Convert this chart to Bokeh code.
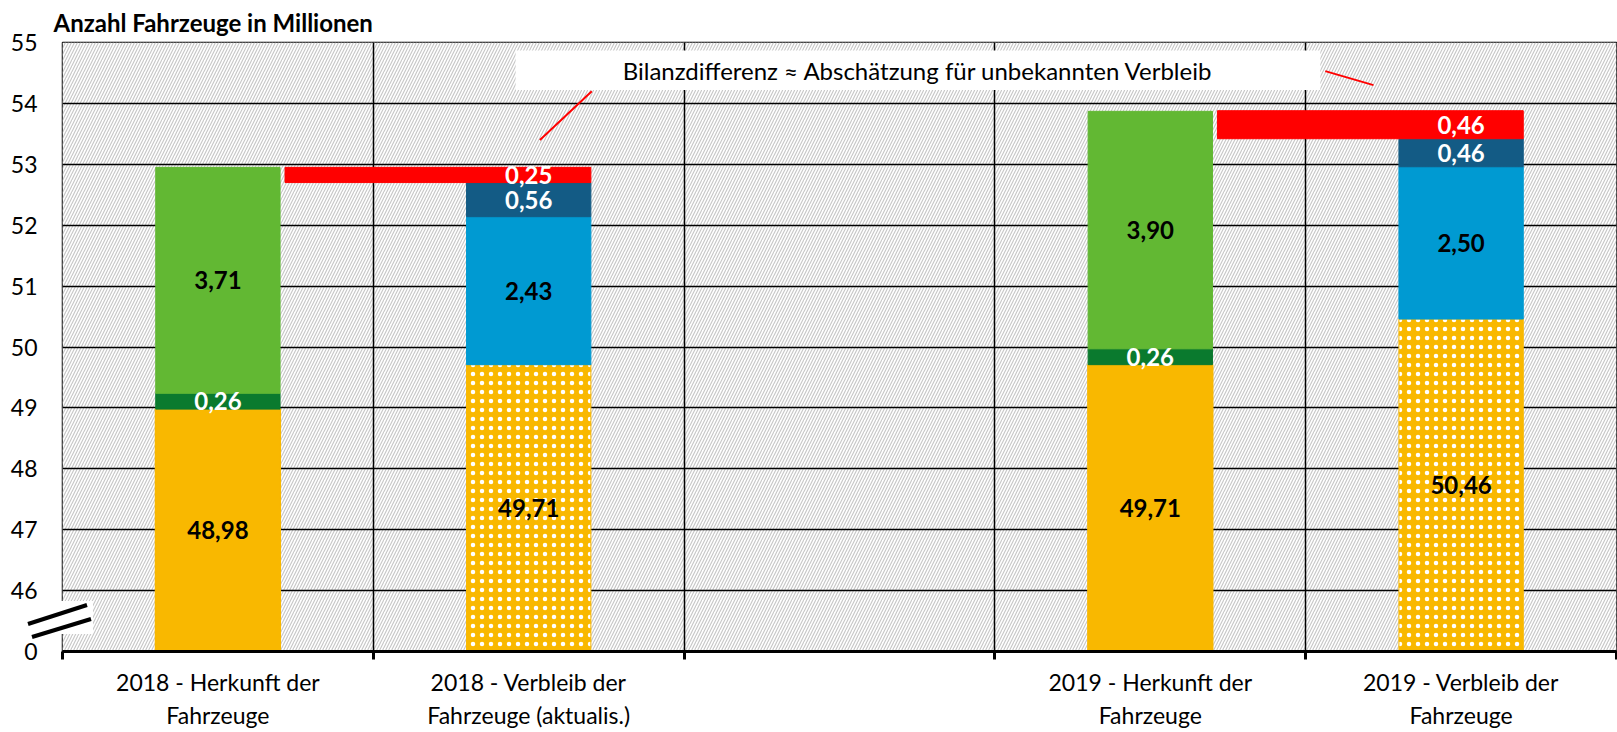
from bokeh.plotting import figure
from bokeh.layouts import column
from bokeh.models import Range1d, FixedTicker, BoxAnnotation, Label, ColumnDataSource, Div
from bokeh.core.properties import value
from bokeh.embed import file_html
from bokeh.resources import INLINE

# ---------------- data ----------------
categories = ["2018 - Herkunft der\nFahrzeuge",
              "2018 - Verbleib der\nFahrzeuge (aktualis.)",
              "",
              "2019 - Herkunft der\nFahrzeuge",
              "2019 - Verbleib der\nFahrzeuge"]
bestand_anfang = [48.98, 0, 0, 49.71, 0]      # solid yellow
bestand_ende = [0, 49.71, 0, 0, 50.46]        # dotted yellow
wiederzulassung = [0.26, 0, 0, 0.26, 0]       # dark green
neuzulassung = [3.71, 0, 0, 3.90, 0]          # light green
abgang = [0, 2.43, 0, 0, 2.50]                # blue
export = [0, 0.56, 0, 0, 0.46]                # dark blue
bilanzdifferenz = [0, 0.25, 0, 0, 0.46]       # red
y_tick_values = [0, 46, 47, 48, 49, 50, 51, 52, 53, 54, 55]
annotation_text = "Bilanzdifferenz \u2248 Absch\u00e4tzung f\u00fcr unbekannten Verbleib"
title_text = "Anzahl Fahrzeuge in Millionen"

FONT = "Lato"
YELLOW = "#F9B800"
DKGREEN = "#0A7A2E"
LTGREEN = "#62B833"
BLUE = "#009AD2"
DKBLUE = "#135B85"
RED = "#FF0000"

BREAK_LOW = 45.0   # display position of 0


def disp(v):
    return v if v >= 46 else BREAK_LOW + v / 46.0


p = figure(width=1617, height=732, output_backend="svg", toolbar_location=None,
           x_range=Range1d(0, 5), y_range=Range1d(BREAK_LOW, 55),
           min_border_left=62, min_border_right=1, min_border_top=0, min_border_bottom=0)

p.title.text = title_text
p.title.text_font = FONT
p.title.text_font_size = "24px"
p.title.text_font_style = "bold"
p.title.text_color = "black"
p.title.align = "left"
p.title.offset = -9
p.title.standoff = 11

p.background_fill_color = "white"
p.border_fill_color = "white"
p.outline_line_color = "black"
p.outline_line_width = 1.5

# hatched background
p.add_layout(BoxAnnotation(left=0, right=5, bottom=BREAK_LOW, top=55, fill_color="white",
                           fill_alpha=1, line_color=None, hatch_pattern="/", hatch_color="#c8c8c8",
                           hatch_scale=6, hatch_weight=1.2, level="image"))

# grid
p.ygrid.ticker = FixedTicker(ticks=[46, 47, 48, 49, 50, 51, 52, 53, 54, 55])
p.ygrid.grid_line_color = "black"
p.ygrid.grid_line_width = 1.5
p.xgrid.ticker = FixedTicker(ticks=[0, 1, 2, 3, 4, 5])
p.xgrid.grid_line_color = "black"
p.xgrid.grid_line_width = 1.5

# y axis
p.yaxis.ticker = FixedTicker(ticks=[disp(v) for v in y_tick_values])
p.yaxis.major_label_overrides = {disp(v): str(v) for v in y_tick_values}
p.yaxis.major_tick_line_color = None
p.yaxis.minor_tick_line_color = None
p.yaxis.axis_line_color = None
p.yaxis.major_label_standoff = 19
p.yaxis.major_label_text_font = FONT
p.yaxis.major_label_text_font_size = "23px"
p.yaxis.major_label_text_color = "black"

# x axis
xs = [i + 0.5 for i in range(len(categories))]
p.xaxis.ticker = FixedTicker(ticks=xs, minor_ticks=[0, 1, 2, 3, 4, 5])
p.xaxis.major_label_overrides = {x: c for x, c in zip(xs, categories)}
p.xaxis.major_tick_line_color = None
p.xaxis.minor_tick_line_color = "black"
p.xaxis.minor_tick_line_width = 3
p.xaxis.minor_tick_out = 8
p.xaxis.minor_tick_in = 0
p.xaxis.axis_line_color = "black"
p.xaxis.axis_line_width = 3
p.xaxis.major_label_standoff = 8
p.xaxis.major_label_text_font = FONT
p.xaxis.major_label_text_font_size = "23px"
p.xaxis.major_label_text_color = "black"

# ---------------- stacked bars ----------------
W = 0.4
series = [
    (bestand_anfang, YELLOW, None, "black", True),
    (bestand_ende, YELLOW, "dot", "black", False),
    (wiederzulassung, DKGREEN, None, "white", False),
    (neuzulassung, LTGREEN, None, "black", False),
    (abgang, BLUE, None, "black", False),
    (export, DKBLUE, None, "white", False),
]
cum = [0.0] * len(categories)
lab_x, lab_y, lab_t, lab_c = [], [], [], []
for vals, color, hatch, tcol, keep_zero in series:
    src = dict(left=[], right=[], bottom=[], top=[])
    for i, v in enumerate(vals):
        if v <= 0 and not (keep_zero and i == 2):
            continue
        b, t = disp(cum[i]), disp(cum[i] + v)
        src["left"].append(xs[i] - W / 2)
        src["right"].append(xs[i] + W / 2)
        src["bottom"].append(b)
        src["top"].append(t)
        if v > 0:
            lab_x.append(xs[i])
            lab_y.append((b + t) / 2)
            lab_t.append(f"{v:.2f}".replace(".", ","))
            lab_c.append(tcol)
        cum[i] += v
    kw = dict(fill_color=color, line_color=color, line_width=1)
    if hatch:
        kw.update(hatch_pattern=hatch, hatch_color="white", hatch_scale=9, hatch_weight=2)
    if keep_zero:
        kw.update(line_width=2)
    p.quad(source=ColumnDataSource(src), **kw)

# red balance difference, spanning from the previous bar to this one
GAP = 0.016
rsrc = dict(left=[], right=[], bottom=[], top=[])
for i, v in enumerate(bilanzdifferenz):
    if v <= 0:
        continue
    b, t = disp(cum[i]), disp(cum[i] + v)
    rsrc["left"].append(xs[i - 1] + W / 2 + GAP)
    rsrc["right"].append(xs[i] + W / 2)
    rsrc["bottom"].append(b)
    rsrc["top"].append(t)
    lab_x.append(xs[i])
    lab_y.append((b + t) / 2)
    lab_t.append(f"{v:.2f}".replace(".", ","))
    lab_c.append("white")
p.quad(source=ColumnDataSource(rsrc), fill_color=RED, line_color=RED)

p.text(x=lab_x, y=lab_y, text=lab_t, text_color=lab_c, text_font=value(FONT),
       text_font_style="bold", text_font_size="24px", text_align="center",
       text_baseline="middle")

# ---------------- annotation ----------------
p.add_layout(BoxAnnotation(left=1.458, right=4.047, bottom=54.22, top=54.87,
                           fill_color="white", fill_alpha=1, line_color=None))
p.add_layout(Label(x=2.753, y=54.54, text=annotation_text, text_font=FONT,
                   text_font_size="24px", text_align="center", text_baseline="middle",
                   text_color="black"))
p.segment(x0=[1.536, 4.063], y0=[53.40, 54.53], x1=[1.703, 4.218], y1=[54.20, 54.30],
          line_color=RED, line_width=2)

# ---------------- axis break marks (decoration overlaid at the left edge) ----------------
break_svg = ('<svg xmlns="http://www.w3.org/2000/svg" width="93" height="44" style="display:block">'
             '<rect x="0" y="5" width="93" height="33" fill="white"/>'
             '<line x1="28" y1="28" x2="87" y2="9" stroke="black" stroke-width="4"/>'
             '<line x1="32" y1="41" x2="91" y2="23" stroke="black" stroke-width="4"/>'
             '</svg>')
marks = Div(text=break_svg, width=93, height=44,
            styles={"position": "absolute", "left": "0px", "top": "596px", "z-index": "10",
                    "padding": "0", "margin": "0"})

layout = column(p, marks, spacing=0)
open("out.html", "w").write(file_html(layout, INLINE))
